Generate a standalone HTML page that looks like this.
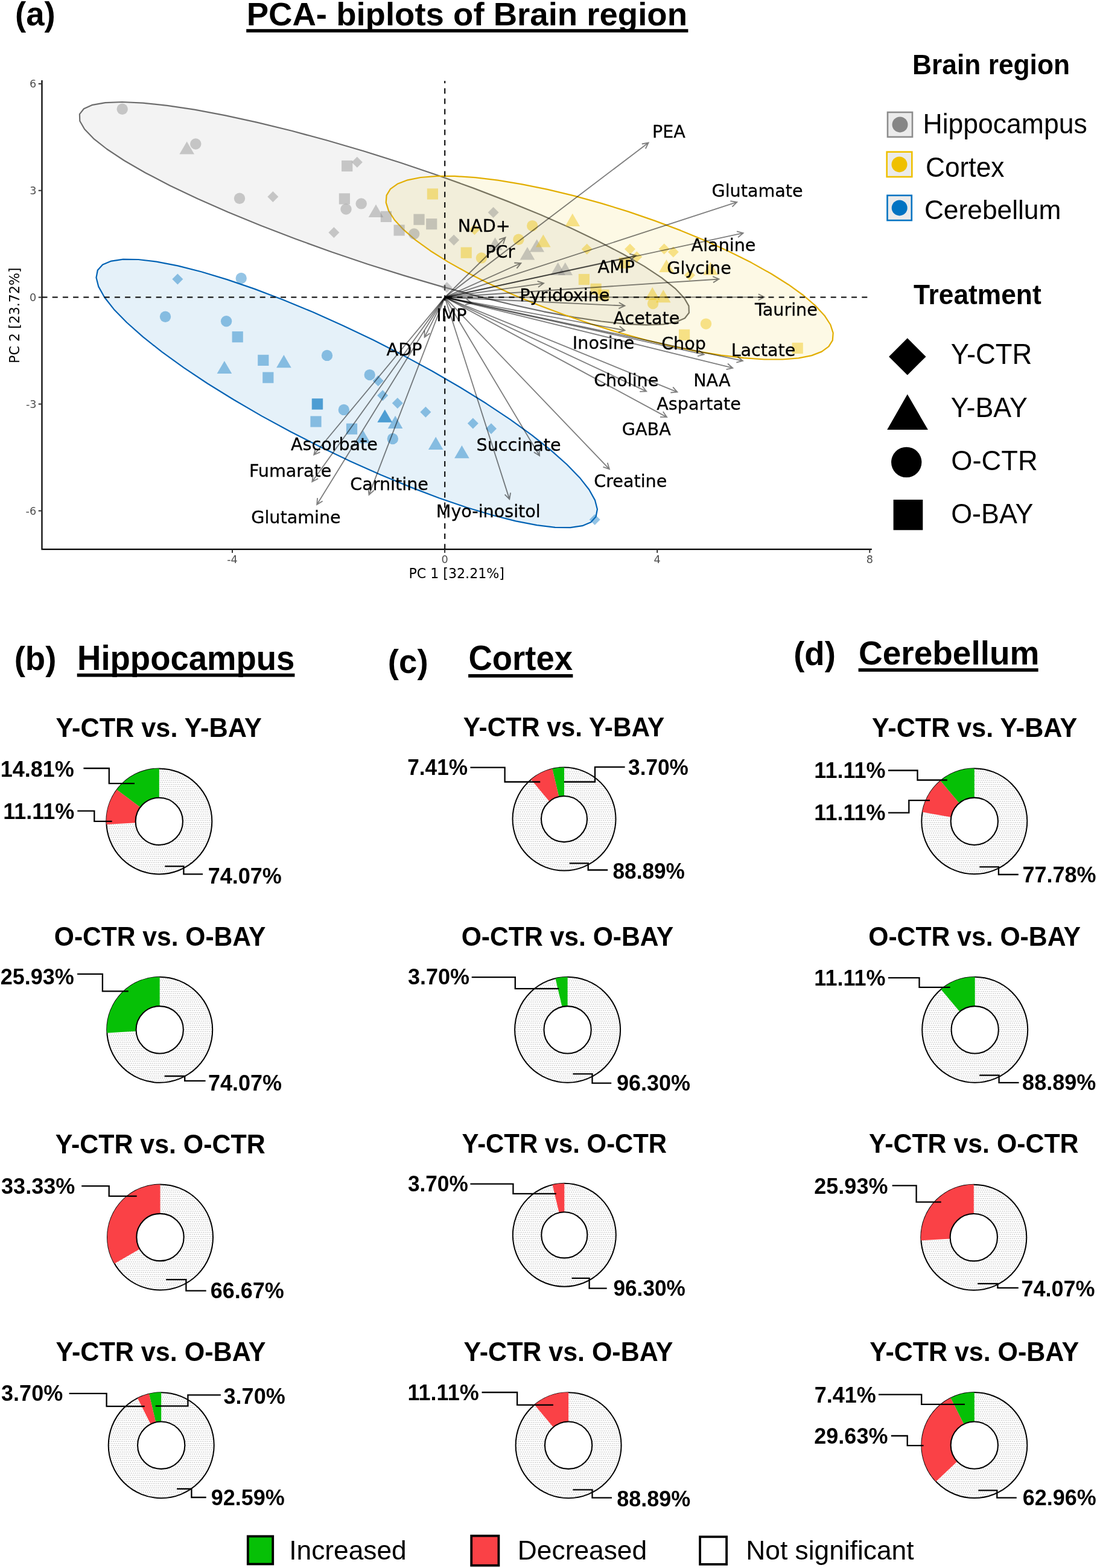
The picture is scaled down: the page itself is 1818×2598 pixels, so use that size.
<!DOCTYPE html>
<html lang="en">
<head>
<meta charset="utf-8">
<title>PCA biplots of brain region</title>
<style>
html,body{margin:0;padding:0;background:#fff;}
body{width:1818px;height:2598px;overflow:hidden;}
svg{display:block;}
text{white-space:pre;}
</style>
</head>
<body>
<svg width="1818" height="2598" viewBox="0 0 1818 2598">
<rect width="1818" height="2598" fill="#ffffff"/>
<g id="ellipses" stroke-linejoin="round">
<path d="M1141.9,518.3 L1134.9,527.2 L1120.6,533.6 L1099.3,537.3 L1071.3,538.4 L1036.9,536.8 L996.7,532.5 L951.3,525.7 L901.2,516.3 L847.3,504.5 L790.4,490.6 L731.2,474.6 L670.6,456.9 L609.5,437.7 L548.9,417.2 L489.5,395.8 L432.3,373.8 L378.0,351.6 L327.5,329.3 L281.6,307.4 L240.8,286.2 L205.8,266.0 L177.1,247.0 L155.0,229.6 L140.1,214.0 L132.3,200.5 L131.9,189.1 L138.9,180.2 L153.2,173.8 L174.5,170.1 L202.5,169.0 L236.9,170.6 L277.1,174.9 L322.5,181.7 L372.6,191.1 L426.5,202.9 L483.4,216.8 L542.6,232.8 L603.2,250.5 L664.3,269.7 L724.9,290.2 L784.3,311.6 L841.5,333.6 L895.8,355.8 L946.3,378.1 L992.2,400.0 L1033.0,421.2 L1068.0,441.4 L1096.7,460.4 L1118.8,477.8 L1133.7,493.4 L1141.5,506.9Z" fill="#868686" fill-opacity="0.1" stroke="#6c6c6c" stroke-width="2.2"/>
<path d="M1379.8,563.8 L1373.4,574.2 L1361.8,582.6 L1345.0,589.1 L1323.4,593.4 L1297.1,595.5 L1266.7,595.5 L1232.6,593.2 L1195.2,588.7 L1155.1,582.1 L1112.9,573.5 L1069.2,563.0 L1024.7,550.8 L979.9,537.0 L935.6,521.8 L892.3,505.5 L850.8,488.4 L811.6,470.5 L775.3,452.3 L742.4,433.9 L713.5,415.7 L688.8,397.9 L668.9,380.7 L653.9,364.5 L644.1,349.4 L639.7,335.7 L640.6,323.6 L647.0,313.2 L658.6,304.8 L675.4,298.3 L697.0,294.0 L723.3,291.9 L753.7,291.9 L787.8,294.2 L825.2,298.7 L865.3,305.3 L907.5,313.9 L951.2,324.4 L995.7,336.6 L1040.5,350.4 L1084.8,365.6 L1128.1,381.9 L1169.6,399.0 L1208.8,416.9 L1245.1,435.1 L1278.0,453.5 L1306.9,471.7 L1331.6,489.5 L1351.5,506.7 L1366.5,522.9 L1376.3,538.0 L1380.7,551.7Z" fill="#EFC000" fill-opacity="0.1" stroke="#E2AE00" stroke-width="2.2"/>
<path d="M987.6,856.0 L979.3,865.2 L965.1,871.2 L945.3,874.1 L920.0,873.8 L889.7,870.2 L854.7,863.4 L815.8,853.5 L773.2,840.7 L727.8,825.2 L680.2,807.1 L631.0,786.7 L581.0,764.4 L530.9,740.5 L481.5,715.2 L433.4,689.1 L387.3,662.3 L344.0,635.5 L304.1,608.9 L268.1,582.9 L236.6,557.9 L210.0,534.3 L188.7,512.4 L173.1,492.5 L163.3,474.9 L159.5,460.0 L161.8,447.8 L170.1,438.6 L184.3,432.6 L204.1,429.7 L229.4,430.0 L259.7,433.6 L294.7,440.4 L333.6,450.3 L376.2,463.1 L421.6,478.6 L469.2,496.7 L518.4,517.1 L568.4,539.4 L618.5,563.3 L667.9,588.6 L716.0,614.7 L762.1,641.5 L805.4,668.3 L845.3,694.9 L881.3,720.9 L912.8,745.9 L939.4,769.5 L960.7,791.4 L976.3,811.3 L986.1,828.9 L989.9,843.8Z" fill="#0073C2" fill-opacity="0.1" stroke="#0062B4" stroke-width="2.2"/>
</g>
<path d="M737.2,910.2 V134.0" stroke="#000" stroke-width="2.0" stroke-dasharray="9 8.16" fill="none"/>
<path d="M69.5,492.6 H1438.5" stroke="#000" stroke-width="2.0" stroke-dasharray="9 8.2" fill="none"/>
<g fill="#868686" fill-opacity="0.42">
<circle cx="202.7" cy="180.7" r="9.2"/>
<path d="M309.7,234.4 L322.0,255.6 L297.4,255.6Z"/>
<circle cx="324.3" cy="238.5" r="9.2"/>
<circle cx="397.0" cy="328.7" r="9.2"/>
<path d="M452.3,317.1 L461.3,326.1 L452.3,335.1 L443.3,326.1Z"/>
<rect x="566.1" y="265.9" width="18.2" height="18.2"/>
<path d="M591.8,259.7 L600.8,268.7 L591.8,277.7 L582.8,268.7Z"/>
<rect x="561.8" y="320.3" width="18.2" height="18.2"/>
<circle cx="573.5" cy="346.6" r="9.2"/>
<circle cx="598.7" cy="337.4" r="9.2"/>
<path d="M623.0,338.7 L635.3,359.9 L610.7,359.9Z"/>
<rect x="630.8" y="349.8" width="18.2" height="18.2"/>
<path d="M553.4,376.2 L562.4,385.2 L553.4,394.2 L544.4,385.2Z"/>
<rect x="652.5" y="372.4" width="18.2" height="18.2"/>
<circle cx="686.2" cy="387.5" r="9.2"/>
<rect x="685.4" y="354.6" width="18.2" height="18.2"/>
<rect x="706.1" y="362.1" width="18.2" height="18.2"/>
<path d="M817.6,343.0 L826.6,352.0 L817.6,361.0 L808.6,352.0Z"/>
<path d="M752.1,388.8 L761.1,397.8 L752.1,406.8 L743.1,397.8Z"/>
<path d="M740.6,467.2 L749.6,476.2 L740.6,485.2 L731.6,476.2Z"/>
<path d="M874.0,409.3 L886.3,430.5 L861.7,430.5Z"/>
<path d="M889.7,396.4 L902.0,417.6 L877.4,417.6Z"/>
<path d="M924.7,434.8 L937.0,456.0 L912.4,456.0Z"/>
<path d="M936.7,434.8 L949.0,456.0 L924.4,456.0Z"/>
<path d="M820.5,393.4 L832.8,414.6 L808.2,414.6Z"/>
</g>
<g fill="#EFC000" fill-opacity="0.42">
<rect x="707.8" y="312.3" width="18.2" height="18.2"/>
<rect x="763.6" y="409.6" width="18.2" height="18.2"/>
<circle cx="797.9" cy="427.4" r="9.2"/>
<path d="M786.4,371.3 L795.4,380.3 L786.4,389.3 L777.4,380.3Z"/>
<circle cx="859.4" cy="396.7" r="9.2"/>
<circle cx="882.2" cy="374.1" r="9.2"/>
<path d="M948.8,353.7 L961.1,374.9 L936.5,374.9Z"/>
<path d="M900.3,388.4 L912.6,409.6 L888.0,409.6Z"/>
<path d="M972.7,403.8 L981.7,412.8 L972.7,421.8 L963.7,412.8Z"/>
<path d="M1044.0,403.8 L1053.0,412.8 L1044.0,421.8 L1035.0,412.8Z"/>
<path d="M1055.3,416.6 L1064.3,425.6 L1055.3,434.6 L1046.3,425.6Z"/>
<path d="M1100.6,403.6 L1109.6,412.6 L1100.6,421.6 L1091.6,412.6Z"/>
<path d="M1115.8,408.5 L1124.8,417.5 L1115.8,426.5 L1106.8,417.5Z"/>
<path d="M1143.0,446.9 L1152.0,455.9 L1143.0,464.9 L1134.0,455.9Z"/>
<path d="M1104.5,429.9 L1116.8,451.1 L1092.2,451.1Z"/>
<rect x="958.8" y="453.9" width="18.2" height="18.2"/>
<rect x="978.5" y="469.7" width="18.2" height="18.2"/>
<rect x="991.4" y="479.7" width="18.2" height="18.2"/>
<path d="M1081.2,475.7 L1093.5,496.9 L1068.9,496.9Z"/>
<path d="M1099.3,480.0 L1111.6,501.2 L1087.0,501.2Z"/>
<circle cx="1082.1" cy="503.1" r="9.2"/>
<rect x="1025.8" y="426.7" width="18.2" height="18.2"/>
<circle cx="1170.0" cy="536.6" r="9.2"/>
<rect x="1125.0" y="545.7" width="18.2" height="18.2"/>
<path d="M1177.5,434.2 L1189.8,455.4 L1165.2,455.4Z"/>
<rect x="1312.6" y="567.8" width="18.2" height="18.2"/>
</g>
<g fill="#0073C2" fill-opacity="0.42">
<path d="M294.4,453.4 L303.4,462.4 L294.4,471.4 L285.4,462.4Z"/>
<circle cx="399.7" cy="461.0" r="9.2"/>
<circle cx="274.0" cy="524.8" r="9.2"/>
<circle cx="375.1" cy="532.2" r="9.2"/>
<rect x="384.6" y="549.1" width="18.2" height="18.2"/>
<rect x="427.2" y="587.8" width="18.2" height="18.2"/>
<path d="M470.4,588.0 L482.7,609.2 L458.1,609.2Z"/>
<path d="M371.9,597.9 L384.2,619.1 L359.6,619.1Z"/>
<rect x="435.2" y="616.5" width="18.2" height="18.2"/>
<circle cx="542.0" cy="588.9" r="9.2"/>
<rect x="516.6" y="660.6" width="18.2" height="18.2"/>
<rect x="517.1" y="660.1" width="18.2" height="18.2"/>
<rect x="514.4" y="689.4" width="18.2" height="18.2"/>
<circle cx="612.7" cy="621.1" r="9.2"/>
<path d="M626.7,622.1 L635.7,631.1 L626.7,640.1 L617.7,631.1Z"/>
<path d="M634.2,646.2 L643.2,655.2 L634.2,664.2 L625.2,655.2Z"/>
<path d="M658.8,659.1 L667.8,668.1 L658.8,677.1 L649.8,668.1Z"/>
<path d="M705.4,673.8 L714.4,682.8 L705.4,691.8 L696.4,682.8Z"/>
<circle cx="569.8" cy="678.9" r="9.2"/>
<path d="M637.6,678.8 L649.9,700.0 L625.3,700.0Z"/>
<path d="M637.9,678.4 L650.2,699.6 L625.6,699.6Z"/>
<path d="M655.1,688.8 L667.4,710.0 L642.8,710.0Z"/>
<rect x="573.9" y="701.6" width="18.2" height="18.2"/>
<path d="M601.8,713.1 L614.1,734.3 L589.5,734.3Z"/>
<circle cx="650.8" cy="727.0" r="9.2"/>
<path d="M722.2,723.7 L734.5,744.9 L709.9,744.9Z"/>
<path d="M765.4,738.1 L777.7,759.3 L753.1,759.3Z"/>
<path d="M783.8,692.5 L792.8,701.5 L783.8,710.5 L774.8,701.5Z"/>
<path d="M814.0,701.3 L823.0,710.3 L814.0,719.3 L805.0,710.3Z"/>
<path d="M985.7,852.0 L994.7,861.0 L985.7,870.0 L976.7,861.0Z"/>
</g>
<g stroke="#000" stroke-opacity="0.5" stroke-width="1.85" fill="none" stroke-linecap="butt" stroke-linejoin="miter">
<path d="M737.2,492.6 L1074.6,236.5 M1069.8,246.4 L1074.6,236.5 L1063.8,238.5"/>
<path d="M737.2,492.6 L1221.2,334.9 M1213.5,342.7 L1221.2,334.9 L1210.4,333.2"/>
<path d="M737.2,492.6 L1231.6,386.2 M1223.1,393.2 L1231.6,386.2 L1221.0,383.4"/>
<path d="M737.2,492.6 L1191.4,462.5 M1182.0,468.1 L1191.4,462.5 L1181.3,458.1"/>
<path d="M737.2,492.6 L1054.0,423.5 M1045.5,430.5 L1054.0,423.5 L1043.4,420.7"/>
<path d="M737.2,492.6 L837.5,393.5 M834.0,403.9 L837.5,393.5 L827.0,396.8"/>
<path d="M737.2,492.6 L863.3,436.0 M856.4,444.6 L863.3,436.0 L852.3,435.5"/>
<path d="M737.2,492.6 L901.0,469.4 M892.0,475.8 L901.0,469.4 L890.6,465.9"/>
<path d="M737.2,492.6 L1266.6,492.2 M1256.8,497.2 L1266.6,492.2 L1256.8,487.2"/>
<path d="M737.2,492.6 L1035.4,506.7 M1025.4,511.2 L1035.4,506.7 L1025.8,501.2"/>
<path d="M737.2,492.6 L1035.4,547.3 M1024.9,550.5 L1035.4,547.3 L1026.7,540.6"/>
<path d="M737.2,492.6 L1166.7,587.3 M1156.1,590.1 L1166.7,587.3 L1158.2,580.3"/>
<path d="M737.2,492.6 L1230.9,597.9 M1220.3,600.7 L1230.9,597.9 L1222.4,591.0"/>
<path d="M737.2,492.6 L1214.3,609.7 M1203.6,612.2 L1214.3,609.7 L1206.0,602.5"/>
<path d="M737.2,492.6 L1071.2,648.4 M1060.2,648.8 L1071.2,648.4 L1064.4,639.7"/>
<path d="M737.2,492.6 L1122.4,649.6 M1111.4,650.5 L1122.4,649.6 L1115.2,641.3"/>
<path d="M737.2,492.6 L1105.0,691.1 M1094.0,690.9 L1105.0,691.1 L1098.8,682.1"/>
<path d="M737.2,492.6 L1009.9,777.3 M999.5,773.7 L1009.9,777.3 L1006.7,766.7"/>
<path d="M737.2,492.6 L894.1,755.1 M884.8,749.3 L894.1,755.1 L893.3,744.2"/>
<path d="M737.2,492.6 L844.3,827.1 M836.6,819.3 L844.3,827.1 L846.1,816.3"/>
<path d="M737.2,492.6 L611.5,819.9 M610.3,808.9 L611.5,819.9 L619.6,812.5"/>
<path d="M737.2,492.6 L525.2,836.0 M526.1,825.1 L525.2,836.0 L534.6,830.3"/>
<path d="M737.2,492.6 L517.3,798.0 M519.0,787.1 L517.3,798.0 L527.1,793.0"/>
<path d="M737.2,492.6 L520.3,753.5 M522.8,742.8 L520.3,753.5 L530.4,749.2"/>
<path d="M737.2,492.6 L703.6,558.7 M703.5,547.7 L703.6,558.7 L712.4,552.2"/>
<path d="M737.2,492.6 L781.6,502.1 M771.0,504.9 L781.6,502.1 L773.1,495.2"/>
</g>
<g id="labels">
<text x="1080.94" y="227.80" font-family='"DejaVu Sans", "Liberation Sans", sans-serif' font-size="28.60" fill="#000" stroke="#000" stroke-width="0.3">PEA</text>
<text x="1179.53" y="325.70" font-family='"DejaVu Sans", "Liberation Sans", sans-serif' font-size="28.60" fill="#000" stroke="#000" stroke-width="0.3">Glutamate</text>
<text x="1145.61" y="416.10" font-family='"DejaVu Sans", "Liberation Sans", sans-serif' font-size="28.60" fill="#000" stroke="#000" stroke-width="0.3">Alanine</text>
<text x="1105.33" y="453.50" font-family='"DejaVu Sans", "Liberation Sans", sans-serif' font-size="28.60" fill="#000" stroke="#000" stroke-width="0.3">Glycine</text>
<text x="990.61" y="452.10" font-family='"DejaVu Sans", "Liberation Sans", sans-serif' font-size="28.60" fill="#000" stroke="#000" stroke-width="0.3">AMP</text>
<text x="758.74" y="383.70" font-family='"DejaVu Sans", "Liberation Sans", sans-serif' font-size="28.60" fill="#000" stroke="#000" stroke-width="0.3">NAD+</text>
<text x="804.24" y="426.90" font-family='"DejaVu Sans", "Liberation Sans", sans-serif' font-size="28.60" fill="#000" stroke="#000" stroke-width="0.3">PCr</text>
<text x="861.24" y="499.30" font-family='"DejaVu Sans", "Liberation Sans", sans-serif' font-size="28.60" fill="#000" stroke="#000" stroke-width="0.3">Pyridoxine</text>
<text x="1251.04" y="522.80" font-family='"DejaVu Sans", "Liberation Sans", sans-serif' font-size="28.60" fill="#000" stroke="#000" stroke-width="0.3">Taurine</text>
<text x="1016.41" y="537.40" font-family='"DejaVu Sans", "Liberation Sans", sans-serif' font-size="28.60" fill="#000" stroke="#000" stroke-width="0.3">Acetate</text>
<text x="723.14" y="532.40" font-family='"DejaVu Sans", "Liberation Sans", sans-serif' font-size="28.60" fill="#000" stroke="#000" stroke-width="0.3">IMP</text>
<text x="948.84" y="578.00" font-family='"DejaVu Sans", "Liberation Sans", sans-serif' font-size="28.60" fill="#000" stroke="#000" stroke-width="0.3">Inosine</text>
<text x="1096.13" y="578.60" font-family='"DejaVu Sans", "Liberation Sans", sans-serif' font-size="28.60" fill="#000" stroke="#000" stroke-width="0.3">Chop</text>
<text x="1211.64" y="589.50" font-family='"DejaVu Sans", "Liberation Sans", sans-serif' font-size="28.60" fill="#000" stroke="#000" stroke-width="0.3">Lactate</text>
<text x="984.13" y="639.50" font-family='"DejaVu Sans", "Liberation Sans", sans-serif' font-size="28.60" fill="#000" stroke="#000" stroke-width="0.3">Choline</text>
<text x="1149.24" y="640.40" font-family='"DejaVu Sans", "Liberation Sans", sans-serif' font-size="28.60" fill="#000" stroke="#000" stroke-width="0.3">NAA</text>
<text x="1088.31" y="678.80" font-family='"DejaVu Sans", "Liberation Sans", sans-serif' font-size="28.60" fill="#000" stroke="#000" stroke-width="0.3">Aspartate</text>
<text x="1030.83" y="721.30" font-family='"DejaVu Sans", "Liberation Sans", sans-serif' font-size="28.60" fill="#000" stroke="#000" stroke-width="0.3">GABA</text>
<text x="640.61" y="589.30" font-family='"DejaVu Sans", "Liberation Sans", sans-serif' font-size="28.60" fill="#000" stroke="#000" stroke-width="0.3">ADP</text>
<text x="789.54" y="747.10" font-family='"DejaVu Sans", "Liberation Sans", sans-serif' font-size="28.60" fill="#000" stroke="#000" stroke-width="0.3">Succinate</text>
<text x="482.01" y="745.50" font-family='"DejaVu Sans", "Liberation Sans", sans-serif' font-size="28.60" fill="#000" stroke="#000" stroke-width="0.3">Ascorbate</text>
<text x="412.94" y="789.80" font-family='"DejaVu Sans", "Liberation Sans", sans-serif' font-size="28.60" fill="#000" stroke="#000" stroke-width="0.3">Fumarate</text>
<text x="580.23" y="812.20" font-family='"DejaVu Sans", "Liberation Sans", sans-serif' font-size="28.60" fill="#000" stroke="#000" stroke-width="0.3">Carnitine</text>
<text x="984.23" y="807.20" font-family='"DejaVu Sans", "Liberation Sans", sans-serif' font-size="28.60" fill="#000" stroke="#000" stroke-width="0.3">Creatine</text>
<text x="416.23" y="867.10" font-family='"DejaVu Sans", "Liberation Sans", sans-serif' font-size="28.60" fill="#000" stroke="#000" stroke-width="0.3">Glutamine</text>
<text x="722.74" y="857.30" font-family='"DejaVu Sans", "Liberation Sans", sans-serif' font-size="28.60" fill="#000" stroke="#000" stroke-width="0.3">Myo-inositol</text>
</g>
<path d="M69.5,134.0 V910.2 H1443.7" stroke="#000" stroke-width="2.2" fill="none" stroke-linecap="square"/>
<path d="M63.7,138.8 H69.5" stroke="#333" stroke-width="2"/>
<text x="48.88" y="145.10" font-family='"DejaVu Sans", "Liberation Sans", sans-serif' font-size="17.6" fill="#4d4d4d">6</text>
<path d="M63.7,315.7 H69.5" stroke="#333" stroke-width="2"/>
<text x="49.23" y="322.00" font-family='"DejaVu Sans", "Liberation Sans", sans-serif' font-size="17.6" fill="#4d4d4d">3</text>
<path d="M63.7,492.6 H69.5" stroke="#333" stroke-width="2"/>
<text x="48.97" y="498.90" font-family='"DejaVu Sans", "Liberation Sans", sans-serif' font-size="17.6" fill="#4d4d4d">0</text>
<path d="M63.7,669.5 H69.5" stroke="#333" stroke-width="2"/>
<text x="42.90" y="675.80" font-family='"DejaVu Sans", "Liberation Sans", sans-serif' font-size="17.6" fill="#4d4d4d">-3</text>
<path d="M63.7,846.4 H69.5" stroke="#333" stroke-width="2"/>
<text x="42.54" y="852.70" font-family='"DejaVu Sans", "Liberation Sans", sans-serif' font-size="17.6" fill="#4d4d4d">-6</text>
<path d="M385.0,910.2 V916.0" stroke="#333" stroke-width="2"/>
<text x="385.00" y="933.3" text-anchor="middle" font-family='"DejaVu Sans", "Liberation Sans", sans-serif' font-size="17.6" fill="#4d4d4d">-4</text>
<path d="M737.1,910.2 V916.0" stroke="#333" stroke-width="2"/>
<text x="737.10" y="933.3" text-anchor="middle" font-family='"DejaVu Sans", "Liberation Sans", sans-serif' font-size="17.6" fill="#4d4d4d">0</text>
<path d="M1089.2,910.2 V916.0" stroke="#333" stroke-width="2"/>
<text x="1089.20" y="933.3" text-anchor="middle" font-family='"DejaVu Sans", "Liberation Sans", sans-serif' font-size="17.6" fill="#4d4d4d">4</text>
<path d="M1441.3,910.2 V916.0" stroke="#333" stroke-width="2"/>
<text x="1441.30" y="933.3" text-anchor="middle" font-family='"DejaVu Sans", "Liberation Sans", sans-serif' font-size="17.6" fill="#4d4d4d">8</text>
<text x="677.39" y="958.40" font-family='"DejaVu Sans", "Liberation Sans", sans-serif' font-size="22.13" fill="#000">PC 1 [32.21%]</text>
<text transform="translate(32.3,601.91) rotate(-90)" x="0" y="0" font-family='"DejaVu Sans", "Liberation Sans", sans-serif' font-size="22.13" fill="#000">PC 2 [23.72%]</text>
<text transform="translate(25.07,42.00) scale(1,1.0)" font-family='"Liberation Sans", Arial, Helvetica, sans-serif' font-size="54.60" font-weight="bold" fill="#000">(a)</text>
<text transform="translate(408.65,42.00) scale(1,1.0)" font-family='"Liberation Sans", Arial, Helvetica, sans-serif' font-size="54.55" font-weight="bold" fill="#000">PCA- biplots of Brain region</text>
<rect x="408.2" y="48.2" width="732.2" height="5.5" fill="#000"/>
<text transform="translate(1512.12,123.20) scale(1,1.04)" font-family='"Liberation Sans", Arial, Helvetica, sans-serif' font-size="44.30" font-weight="bold" fill="#000">Brain region</text>
<text transform="translate(1513.96,504.00) scale(1,1.04)" font-family='"Liberation Sans", Arial, Helvetica, sans-serif' font-size="44.31" font-weight="bold" fill="#000">Treatment</text>
<rect x="1471.0" y="186.0" width="41.0" height="40.9" fill="#ebebeb" stroke="#8c8c8c" stroke-width="2.6"/>
<circle cx="1491.5" cy="206.4" r="13" fill="#868686"/>
<text transform="translate(1529.54,220.60) scale(1,1.04)" font-family='"Liberation Sans", Arial, Helvetica, sans-serif' font-size="44.52" fill="#000">Hippocampus</text>
<rect x="1469.7" y="251.7" width="41.6" height="41.3" fill="#ebebeb" stroke="#EFC000" stroke-width="2.6"/>
<circle cx="1490.5" cy="272.4" r="13" fill="#EFC000"/>
<text transform="translate(1533.98,293.30) scale(1,1.04)" font-family='"Liberation Sans", Arial, Helvetica, sans-serif' font-size="44.31" fill="#000">Cortex</text>
<rect x="1470.5" y="323.8" width="40.3" height="41.3" fill="#ebebeb" stroke="#0073C2" stroke-width="2.6"/>
<circle cx="1490.7" cy="344.4" r="13" fill="#0073C2"/>
<text transform="translate(1531.88,363.00) scale(1,1.0)" font-family='"Liberation Sans", Arial, Helvetica, sans-serif' font-size="44.30" fill="#000">Cerebellum</text>
<path d="M1503.8,560.3 L1534.5,590.9 L1503.8,621.5 L1473.1,590.9Z" fill="#000"/>
<path d="M1503.8,653.3 L1537.9,712.1 L1470.2,712.1Z" fill="#000"/>
<circle cx="1502.2" cy="765.9" r="25.2" fill="#000"/>
<rect x="1480.6" y="827.9" width="48.7" height="50.4" fill="#000"/>
<text transform="translate(1575.76,602.60) scale(1,1.04)" font-family='"Liberation Sans", Arial, Helvetica, sans-serif' font-size="45.43" fill="#000">Y-CTR</text>
<text transform="translate(1575.78,691.00) scale(1,1.04)" font-family='"Liberation Sans", Arial, Helvetica, sans-serif' font-size="44.81" fill="#000">Y-BAY</text>
<text transform="translate(1576.16,779.00) scale(1,1.04)" font-family='"Liberation Sans", Arial, Helvetica, sans-serif' font-size="45.31" fill="#000">O-CTR</text>
<text transform="translate(1576.18,867.40) scale(1,1.04)" font-family='"Liberation Sans", Arial, Helvetica, sans-serif' font-size="44.85" fill="#000">O-BAY</text>
<text transform="translate(23.67,1109.90) scale(1,1.0)" font-family='"Liberation Sans", Arial, Helvetica, sans-serif' font-size="54.60" font-weight="bold" fill="#000">(b)</text>
<text transform="translate(128.06,1109.50) scale(1,1.04)" font-family='"Liberation Sans", Arial, Helvetica, sans-serif' font-size="54.50" font-weight="bold" fill="#000">Hippocampus</text>
<rect x="127.7" y="1115.9" width="360.7" height="5.6" fill="#000"/>
<text transform="translate(642.87,1115.30) scale(1,1.0)" font-family='"Liberation Sans", Arial, Helvetica, sans-serif' font-size="54.60" font-weight="bold" fill="#000">(c)</text>
<text transform="translate(776.52,1110.30) scale(1,1.04)" font-family='"Liberation Sans", Arial, Helvetica, sans-serif' font-size="54.46" font-weight="bold" fill="#000">Cortex</text>
<rect x="776.1" y="1117.0" width="173.3" height="5.6" fill="#000"/>
<text transform="translate(1315.17,1101.90) scale(1,1.0)" font-family='"Liberation Sans", Arial, Helvetica, sans-serif' font-size="54.60" font-weight="bold" fill="#000">(d)</text>
<text transform="translate(1423.00,1100.90) scale(1,1.0)" font-family='"Liberation Sans", Arial, Helvetica, sans-serif' font-size="54.99" font-weight="bold" fill="#000">Cerebellum</text>
<rect x="1422.6" y="1107.3" width="298.0" height="5.6" fill="#000"/>
<defs><pattern id="dots" width="3.53" height="7" patternUnits="userSpaceOnUse"><rect width="3.53" height="7" fill="#fff"/><rect x="0.3" y="0.6" width="1.5" height="1.4" fill="#bdbdbd"/><rect x="1.5" y="4.1" width="1.5" height="1.4" fill="#bdbdbd"/></pattern></defs>
<text transform="translate(92.53,1221.20) scale(1,1.04)" font-family='"Liberation Sans", Arial, Helvetica, sans-serif' font-size="43.26" font-weight="bold" fill="#000">Y-CTR vs. Y-BAY</text>
<circle cx="263.8" cy="1360.9" r="87.5" fill="url(#dots)" stroke="#000" stroke-width="2"/>
<path d="M263.80,1273.30 A87.6,87.6 0 0 0 193.55,1308.57 L232.40,1337.51 A39.150000000000006,39.150000000000006 0 0 1 263.80,1321.75Z" fill="#06C006"/>
<path d="M193.55,1308.57 A87.6,87.6 0 0 0 176.35,1365.96 L224.72,1363.16 A39.150000000000006,39.150000000000006 0 0 1 232.40,1337.51Z" fill="#FA4146"/>
<circle cx="263.8" cy="1360.9" r="39.150000000000006" fill="#fff" stroke="#000" stroke-width="2.1"/>
<text transform="translate(0.66,1286.90) scale(1,1.04)" font-family='"Liberation Sans", Arial, Helvetica, sans-serif' font-size="36.00" font-weight="bold" fill="#000">14.81%</text>
<path d="M138.4,1273.0 L180.8,1273.0 L180.8,1298.2 L223.0,1298.2" fill="none" stroke="#000" stroke-width="2.3"/>
<text transform="translate(5.16,1356.70) scale(1,1.04)" font-family='"Liberation Sans", Arial, Helvetica, sans-serif' font-size="36.00" font-weight="bold" fill="#000">11.11%</text>
<path d="M128.3,1343.6 L156.3,1343.6 L156.3,1360.9 L185.6,1360.9" fill="none" stroke="#000" stroke-width="2.3"/>
<text transform="translate(344.78,1463.60) scale(1,1.04)" font-family='"Liberation Sans", Arial, Helvetica, sans-serif' font-size="36.00" font-weight="bold" fill="#000">74.07%</text>
<path d="M273.3,1435.4 L304.4,1435.4 L304.4,1448.4 L336.1,1448.4" fill="none" stroke="#000" stroke-width="2.3"/>
<text transform="translate(767.75,1219.70) scale(1,1.04)" font-family='"Liberation Sans", Arial, Helvetica, sans-serif' font-size="42.27" font-weight="bold" fill="#000">Y-CTR vs. Y-BAY</text>
<circle cx="935.0" cy="1357.1" r="85.5" fill="url(#dots)" stroke="#000" stroke-width="2"/>
<path d="M935.00,1271.50 A85.6,85.6 0 0 0 915.28,1273.80 L926.23,1320.07 A38.050000000000004,38.050000000000004 0 0 1 935.00,1319.05Z" fill="#06C006"/>
<path d="M915.28,1273.80 A85.6,85.6 0 0 0 879.98,1291.52 L910.54,1327.95 A38.050000000000004,38.050000000000004 0 0 1 926.23,1320.07Z" fill="#FA4146"/>
<circle cx="935.0" cy="1357.1" r="38.050000000000004" fill="#fff" stroke="#000" stroke-width="2.1"/>
<text transform="translate(675.22,1283.90) scale(1,1.04)" font-family='"Liberation Sans", Arial, Helvetica, sans-serif' font-size="35.20" font-weight="bold" fill="#000">7.41%</text>
<path d="M779.4,1271.6 L836.6,1271.6 L836.6,1295.5 L895.2,1295.5" fill="none" stroke="#000" stroke-width="2.3"/>
<text transform="translate(1041.12,1283.90) scale(1,1.04)" font-family='"Liberation Sans", Arial, Helvetica, sans-serif' font-size="35.20" font-weight="bold" fill="#000">3.70%</text>
<path d="M1035.6,1270.9 L986.0,1270.9 L986.0,1295.5 L934.8,1295.5" fill="none" stroke="#000" stroke-width="2.3"/>
<text transform="translate(1015.54,1456.40) scale(1,1.04)" font-family='"Liberation Sans", Arial, Helvetica, sans-serif' font-size="35.20" font-weight="bold" fill="#000">88.89%</text>
<path d="M943.7,1430.3 L974.7,1430.3 L974.7,1441.5 L1007.2,1441.5" fill="none" stroke="#000" stroke-width="2.3"/>
<text transform="translate(1444.94,1221.20) scale(1,1.04)" font-family='"Liberation Sans", Arial, Helvetica, sans-serif' font-size="43.12" font-weight="bold" fill="#000">Y-CTR vs. Y-BAY</text>
<circle cx="1614.8" cy="1360.8" r="87.5" fill="url(#dots)" stroke="#000" stroke-width="2"/>
<path d="M1614.80,1273.20 A87.6,87.6 0 0 0 1558.50,1293.69 L1589.64,1330.81 A39.150000000000006,39.150000000000006 0 0 1 1614.80,1321.65Z" fill="#06C006"/>
<path d="M1558.50,1293.69 A87.6,87.6 0 0 0 1528.53,1345.58 L1576.25,1354.00 A39.150000000000006,39.150000000000006 0 0 1 1589.64,1330.81Z" fill="#FA4146"/>
<circle cx="1614.8" cy="1360.8" r="39.150000000000006" fill="#fff" stroke="#000" stroke-width="2.1"/>
<text transform="translate(1349.36,1288.80) scale(1,1.04)" font-family='"Liberation Sans", Arial, Helvetica, sans-serif' font-size="36.00" font-weight="bold" fill="#000">11.11%</text>
<path d="M1471.9,1276.5 L1520.5,1276.5 L1520.5,1292.5 L1569.8,1292.5" fill="none" stroke="#000" stroke-width="2.3"/>
<text transform="translate(1349.36,1359.40) scale(1,1.04)" font-family='"Liberation Sans", Arial, Helvetica, sans-serif' font-size="36.00" font-weight="bold" fill="#000">11.11%</text>
<path d="M1471.9,1346.7 L1506.3,1346.7 L1506.3,1326.1 L1541.0,1326.1" fill="none" stroke="#000" stroke-width="2.3"/>
<text transform="translate(1694.38,1462.40) scale(1,1.04)" font-family='"Liberation Sans", Arial, Helvetica, sans-serif' font-size="36.00" font-weight="bold" fill="#000">77.78%</text>
<path d="M1623.2,1436.3 L1654.9,1436.3 L1654.9,1449.0 L1687.8,1449.0" fill="none" stroke="#000" stroke-width="2.3"/>
<text transform="translate(89.80,1566.50) scale(1,1.04)" font-family='"Liberation Sans", Arial, Helvetica, sans-serif' font-size="42.57" font-weight="bold" fill="#000">O-CTR vs. O-BAY</text>
<circle cx="264.7" cy="1706.3" r="87.5" fill="url(#dots)" stroke="#000" stroke-width="2"/>
<path d="M264.70,1618.70 A87.6,87.6 0 0 0 177.25,1711.42 L225.62,1708.59 A39.150000000000006,39.150000000000006 0 0 1 264.70,1667.15Z" fill="#06C006"/>
<circle cx="264.7" cy="1706.3" r="39.150000000000006" fill="#fff" stroke="#000" stroke-width="2.1"/>
<text transform="translate(0.64,1630.70) scale(1,1.04)" font-family='"Liberation Sans", Arial, Helvetica, sans-serif' font-size="36.00" font-weight="bold" fill="#000">25.93%</text>
<path d="M128.1,1613.9 L169.9,1613.9 L169.9,1642.3 L212.8,1642.3" fill="none" stroke="#000" stroke-width="2.3"/>
<text transform="translate(344.88,1806.90) scale(1,1.04)" font-family='"Liberation Sans", Arial, Helvetica, sans-serif' font-size="36.00" font-weight="bold" fill="#000">74.07%</text>
<path d="M272.6,1783.0 L306.2,1783.0 L306.2,1790.9 L340.6,1790.9" fill="none" stroke="#000" stroke-width="2.3"/>
<text transform="translate(764.69,1566.50) scale(1,1.04)" font-family='"Liberation Sans", Arial, Helvetica, sans-serif' font-size="42.65" font-weight="bold" fill="#000">O-CTR vs. O-BAY</text>
<circle cx="940.6" cy="1706.3" r="87.5" fill="url(#dots)" stroke="#000" stroke-width="2"/>
<path d="M940.60,1618.70 A87.6,87.6 0 0 0 920.42,1621.06 L931.58,1668.20 A39.150000000000006,39.150000000000006 0 0 1 940.60,1667.15Z" fill="#06C006"/>
<circle cx="940.6" cy="1706.3" r="39.150000000000006" fill="#fff" stroke="#000" stroke-width="2.1"/>
<text transform="translate(675.90,1631.40) scale(1,1.04)" font-family='"Liberation Sans", Arial, Helvetica, sans-serif' font-size="36.00" font-weight="bold" fill="#000">3.70%</text>
<path d="M781.7,1619.1 L853.8,1619.1 L853.8,1638.2 L926.2,1638.2" fill="none" stroke="#000" stroke-width="2.3"/>
<text transform="translate(1022.04,1806.90) scale(1,1.04)" font-family='"Liberation Sans", Arial, Helvetica, sans-serif' font-size="36.00" font-weight="bold" fill="#000">96.30%</text>
<path d="M949.4,1779.3 L981.5,1779.3 L981.5,1794.6 L1013.2,1794.6" fill="none" stroke="#000" stroke-width="2.3"/>
<text transform="translate(1439.19,1566.50) scale(1,1.04)" font-family='"Liberation Sans", Arial, Helvetica, sans-serif' font-size="42.70" font-weight="bold" fill="#000">O-CTR vs. O-BAY</text>
<circle cx="1615.7" cy="1706.3" r="87.5" fill="url(#dots)" stroke="#000" stroke-width="2"/>
<path d="M1615.70,1618.70 A87.6,87.6 0 0 0 1559.40,1639.19 L1590.54,1676.31 A39.150000000000006,39.150000000000006 0 0 1 1615.70,1667.15Z" fill="#06C006"/>
<circle cx="1615.7" cy="1706.3" r="39.150000000000006" fill="#fff" stroke="#000" stroke-width="2.1"/>
<text transform="translate(1349.36,1632.60) scale(1,1.04)" font-family='"Liberation Sans", Arial, Helvetica, sans-serif' font-size="36.00" font-weight="bold" fill="#000">11.11%</text>
<path d="M1471.9,1620.2 L1523.5,1620.2 L1523.5,1635.9 L1574.6,1635.9" fill="none" stroke="#000" stroke-width="2.3"/>
<text transform="translate(1694.12,1805.50) scale(1,1.04)" font-family='"Liberation Sans", Arial, Helvetica, sans-serif' font-size="36.00" font-weight="bold" fill="#000">88.89%</text>
<path d="M1623.2,1781.6 L1655.6,1781.6 L1655.6,1793.9 L1688.5,1793.9" fill="none" stroke="#000" stroke-width="2.3"/>
<text transform="translate(91.74,1910.90) scale(1,1.04)" font-family='"Liberation Sans", Arial, Helvetica, sans-serif' font-size="42.90" font-weight="bold" fill="#000">Y-CTR vs. O-CTR</text>
<circle cx="265.5" cy="2050.0" r="87.5" fill="url(#dots)" stroke="#000" stroke-width="2"/>
<path d="M265.50,1962.40 A87.6,87.6 0 0 0 189.63,2093.78 L231.59,2069.57 A39.150000000000006,39.150000000000006 0 0 1 265.50,2010.85Z" fill="#FA4146"/>
<circle cx="265.5" cy="2050.0" r="39.150000000000006" fill="#fff" stroke="#000" stroke-width="2.1"/>
<text transform="translate(2.10,1978.20) scale(1,1.04)" font-family='"Liberation Sans", Arial, Helvetica, sans-serif' font-size="36.00" font-weight="bold" fill="#000">33.33%</text>
<path d="M135.2,1965.1 L180.7,1965.1 L180.7,1981.9 L226.7,1981.9" fill="none" stroke="#000" stroke-width="2.3"/>
<text transform="translate(348.64,2150.70) scale(1,1.04)" font-family='"Liberation Sans", Arial, Helvetica, sans-serif' font-size="36.00" font-weight="bold" fill="#000">66.67%</text>
<path d="M275.2,2120.1 L308.4,2120.1 L308.4,2138.7 L341.7,2138.7" fill="none" stroke="#000" stroke-width="2.3"/>
<text transform="translate(765.56,1909.80) scale(1,1.04)" font-family='"Liberation Sans", Arial, Helvetica, sans-serif' font-size="41.87" font-weight="bold" fill="#000">Y-CTR vs. O-CTR</text>
<circle cx="935.3" cy="2046.3" r="85.5" fill="url(#dots)" stroke="#000" stroke-width="2"/>
<path d="M935.30,1960.70 A85.6,85.6 0 0 0 915.58,1963.00 L926.53,2009.27 A38.050000000000004,38.050000000000004 0 0 1 935.30,2008.25Z" fill="#FA4146"/>
<circle cx="935.3" cy="2046.3" r="38.050000000000004" fill="#fff" stroke="#000" stroke-width="2.1"/>
<text transform="translate(675.92,1974.40) scale(1,1.04)" font-family='"Liberation Sans", Arial, Helvetica, sans-serif' font-size="35.20" font-weight="bold" fill="#000">3.70%</text>
<path d="M779.4,1961.7 L850.4,1961.7 L850.4,1977.8 L921.7,1977.8" fill="none" stroke="#000" stroke-width="2.3"/>
<text transform="translate(1016.47,2146.90) scale(1,1.04)" font-family='"Liberation Sans", Arial, Helvetica, sans-serif' font-size="35.20" font-weight="bold" fill="#000">96.30%</text>
<path d="M947.5,2117.8 L976.6,2117.8 L976.6,2134.6 L1005.7,2134.6" fill="none" stroke="#000" stroke-width="2.3"/>
<text transform="translate(1440.04,1910.20) scale(1,1.04)" font-family='"Liberation Sans", Arial, Helvetica, sans-serif' font-size="42.85" font-weight="bold" fill="#000">Y-CTR vs. O-CTR</text>
<circle cx="1613.8" cy="2050.2" r="87.5" fill="url(#dots)" stroke="#000" stroke-width="2"/>
<path d="M1613.80,1962.60 A87.6,87.6 0 0 0 1526.35,2055.32 L1574.72,2052.49 A39.150000000000006,39.150000000000006 0 0 1 1613.80,2011.05Z" fill="#FA4146"/>
<circle cx="1613.8" cy="2050.2" r="39.150000000000006" fill="#fff" stroke="#000" stroke-width="2.1"/>
<text transform="translate(1349.34,1978.20) scale(1,1.04)" font-family='"Liberation Sans", Arial, Helvetica, sans-serif' font-size="36.00" font-weight="bold" fill="#000">25.93%</text>
<path d="M1478.6,1964.3 L1518.6,1964.3 L1518.6,1991.6 L1559.7,1991.6" fill="none" stroke="#000" stroke-width="2.3"/>
<text transform="translate(1692.48,2148.40) scale(1,1.04)" font-family='"Liberation Sans", Arial, Helvetica, sans-serif' font-size="36.00" font-weight="bold" fill="#000">74.07%</text>
<path d="M1620.2,2126.8 L1653.4,2126.8 L1653.4,2133.9 L1687.8,2133.9" fill="none" stroke="#000" stroke-width="2.3"/>
<text transform="translate(92.54,2254.70) scale(1,1.04)" font-family='"Liberation Sans", Arial, Helvetica, sans-serif' font-size="43.10" font-weight="bold" fill="#000">Y-CTR vs. O-BAY</text>
<circle cx="267.2" cy="2394.7" r="87.5" fill="url(#dots)" stroke="#000" stroke-width="2"/>
<path d="M267.20,2307.10 A87.6,87.6 0 0 0 247.02,2309.46 L258.18,2356.60 A39.150000000000006,39.150000000000006 0 0 1 267.20,2355.55Z" fill="#06C006"/>
<path d="M247.02,2309.46 A87.6,87.6 0 0 0 227.92,2316.40 L249.65,2359.71 A39.150000000000006,39.150000000000006 0 0 1 258.18,2356.60Z" fill="#FA4146"/>
<circle cx="267.2" cy="2394.7" r="39.150000000000006" fill="#fff" stroke="#000" stroke-width="2.1"/>
<text transform="translate(2.10,2321.20) scale(1,1.04)" font-family='"Liberation Sans", Arial, Helvetica, sans-serif' font-size="36.00" font-weight="bold" fill="#000">3.70%</text>
<path d="M114.6,2308.8 L176.6,2308.8 L176.6,2330.1 L239.7,2330.1" fill="none" stroke="#000" stroke-width="2.3"/>
<text transform="translate(370.60,2325.60) scale(1,1.04)" font-family='"Liberation Sans", Arial, Helvetica, sans-serif' font-size="36.00" font-weight="bold" fill="#000">3.70%</text>
<path d="M365.9,2311.4 L311.4,2311.4 L311.4,2329.7 L257.7,2329.7" fill="none" stroke="#000" stroke-width="2.3"/>
<text transform="translate(349.74,2494.40) scale(1,1.04)" font-family='"Liberation Sans", Arial, Helvetica, sans-serif' font-size="36.00" font-weight="bold" fill="#000">92.59%</text>
<path d="M293.1,2466.8 L317.4,2466.8 L317.4,2481.0 L341.7,2481.0" fill="none" stroke="#000" stroke-width="2.3"/>
<text transform="translate(768.54,2254.70) scale(1,1.04)" font-family='"Liberation Sans", Arial, Helvetica, sans-serif' font-size="42.96" font-weight="bold" fill="#000">Y-CTR vs. O-BAY</text>
<circle cx="942.1" cy="2394.7" r="87.5" fill="url(#dots)" stroke="#000" stroke-width="2"/>
<path d="M942.10,2307.10 A87.6,87.6 0 0 0 885.80,2327.59 L916.94,2364.71 A39.150000000000006,39.150000000000006 0 0 1 942.10,2355.55Z" fill="#FA4146"/>
<circle cx="942.1" cy="2394.7" r="39.150000000000006" fill="#fff" stroke="#000" stroke-width="2.1"/>
<text transform="translate(675.56,2320.00) scale(1,1.04)" font-family='"Liberation Sans", Arial, Helvetica, sans-serif' font-size="36.00" font-weight="bold" fill="#000">11.11%</text>
<path d="M798.5,2307.0 L857.1,2307.0 L857.1,2327.9 L916.9,2327.9" fill="none" stroke="#000" stroke-width="2.3"/>
<text transform="translate(1022.22,2495.50) scale(1,1.04)" font-family='"Liberation Sans", Arial, Helvetica, sans-serif' font-size="36.00" font-weight="bold" fill="#000">88.89%</text>
<path d="M949.4,2468.3 L981.5,2468.3 L981.5,2481.7 L1014.0,2481.7" fill="none" stroke="#000" stroke-width="2.3"/>
<text transform="translate(1441.14,2254.70) scale(1,1.04)" font-family='"Liberation Sans", Arial, Helvetica, sans-serif' font-size="42.97" font-weight="bold" fill="#000">Y-CTR vs. O-BAY</text>
<circle cx="1614.8" cy="2394.6" r="87.5" fill="url(#dots)" stroke="#000" stroke-width="2"/>
<path d="M1614.80,2307.00 A87.6,87.6 0 0 0 1575.47,2316.32 L1597.22,2359.62 A39.150000000000006,39.150000000000006 0 0 1 1614.80,2355.45Z" fill="#06C006"/>
<path d="M1575.47,2316.32 A87.6,87.6 0 0 0 1551.09,2454.73 L1586.33,2421.47 A39.150000000000006,39.150000000000006 0 0 1 1597.22,2359.62Z" fill="#FA4146"/>
<circle cx="1614.8" cy="2394.6" r="39.150000000000006" fill="#fff" stroke="#000" stroke-width="2.1"/>
<text transform="translate(1349.68,2323.80) scale(1,1.04)" font-family='"Liberation Sans", Arial, Helvetica, sans-serif' font-size="36.00" font-weight="bold" fill="#000">7.41%</text>
<path d="M1455.9,2310.7 L1527.2,2310.7 L1527.2,2326.8 L1598.9,2326.8" fill="none" stroke="#000" stroke-width="2.3"/>
<text transform="translate(1349.34,2392.10) scale(1,1.04)" font-family='"Liberation Sans", Arial, Helvetica, sans-serif' font-size="36.00" font-weight="bold" fill="#000">29.63%</text>
<path d="M1476.8,2379.0 L1503.7,2379.0 L1503.7,2395.1 L1530.5,2395.1" fill="none" stroke="#000" stroke-width="2.3"/>
<text transform="translate(1694.74,2494.40) scale(1,1.04)" font-family='"Liberation Sans", Arial, Helvetica, sans-serif' font-size="36.00" font-weight="bold" fill="#000">62.96%</text>
<path d="M1621.3,2469.4 L1652.3,2469.4 L1652.3,2481.7 L1684.8,2481.7" fill="none" stroke="#000" stroke-width="2.3"/>
<rect x="410.8" y="2545.5" width="41.4" height="46.0" fill="#06C006" stroke="#000" stroke-width="3.8"/>
<rect x="781.2" y="2544.7" width="45.2" height="49.1" fill="#FA4146" stroke="#000" stroke-width="3.8"/>
<rect x="1160.1" y="2546.3" width="44.0" height="45.6" fill="#fff" stroke="#000" stroke-width="3.8"/>
<text transform="translate(479.21,2584.10) scale(1,1.0)" font-family='"Liberation Sans", Arial, Helvetica, sans-serif' font-size="44.30" fill="#000">Increased</text>
<text transform="translate(857.86,2584.10) scale(1,1.0)" font-family='"Liberation Sans", Arial, Helvetica, sans-serif' font-size="44.30" fill="#000">Decreased</text>
<text transform="translate(1236.26,2584.10) scale(1,1.0)" font-family='"Liberation Sans", Arial, Helvetica, sans-serif' font-size="44.30" fill="#000">Not significant</text>
</svg>
</body>
</html>
